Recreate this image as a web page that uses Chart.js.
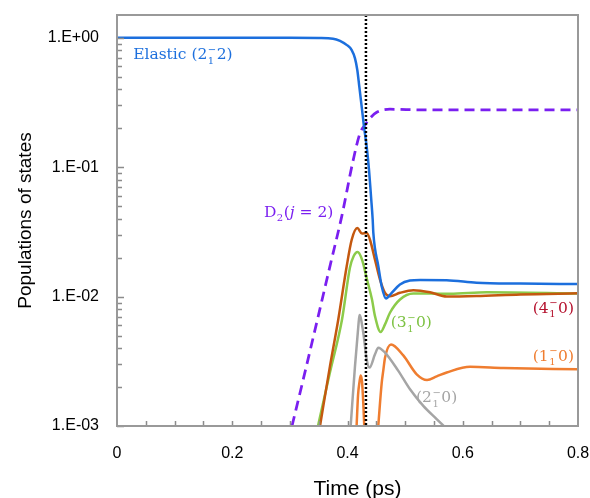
<!DOCTYPE html>
<html>
<head>
<meta charset="utf-8">
<script src="https://cdn.jsdelivr.net/npm/chart.js@4.4.0/dist/chart.umd.min.js"></script>
<style>
  html, body { margin: 0; padding: 0; background: #fff; }
</style>
</head>
<body>
<canvas id="popChart" width="590" height="498"></canvas>
<script>
// time (ps) / population pairs
const elasticT = [0, 0.1, 0.2, 0.3, 0.35, 0.375, 0.387, 0.399, 0.4073, 0.413, 0.417, 0.4205, 0.4246, 0.4286, 0.4333, 0.4373, 0.4408, 0.4437, 0.4448, 0.4535, 0.4594, 0.4668, 0.4767, 0.491, 0.5083, 0.526, 0.572, 0.624, 0.70, 0.80];
const elasticP = [1.0, 1.0, 1.0, 0.999, 0.995, 0.985, 0.948, 0.878, 0.804, 0.694, 0.564, 0.419, 0.294, 0.206, 0.144, 0.0957, 0.0594, 0.0394, 0.0312, 0.0172, 0.0120, 0.00967, 0.0107, 0.0124, 0.0133, 0.01345, 0.0134, 0.0128, 0.0126, 0.0125];

const d2T = [0.3037, 0.3233, 0.3466, 0.3696, 0.39, 0.41, 0.4217, 0.4304, 0.439, 0.4507, 0.4737, 0.526, 0.6, 0.7, 0.8];
const d2P = [0.001, 0.0023, 0.0063, 0.0172, 0.0417, 0.114, 0.183, 0.212, 0.239, 0.266, 0.2805, 0.2775, 0.277, 0.277, 0.277];

const s4T = [0.3523, 0.3696, 0.384, 0.3986, 0.4073, 0.417, 0.4252, 0.4333, 0.439, 0.4477, 0.4564, 0.4651, 0.4737, 0.4911, 0.5142, 0.5432, 0.5722, 0.624, 0.70, 0.80];
const s4P = [0.001, 0.0029, 0.00666, 0.01715, 0.0275, 0.0339, 0.0307, 0.031, 0.0275, 0.0193, 0.01355, 0.0107, 0.01007, 0.0107, 0.0112, 0.0108, 0.0100, 0.0101, 0.0104, 0.0106];

const s3T = [0.3488, 0.3696, 0.3905, 0.4043, 0.4106, 0.4175, 0.4252, 0.4338, 0.4425, 0.4477, 0.4575, 0.4651, 0.4737, 0.4911, 0.5142, 0.5432, 0.578, 0.6416, 0.80];
const s3P = [0.001, 0.0026, 0.00666, 0.0168, 0.0205, 0.0221, 0.0193, 0.01355, 0.0095, 0.00706, 0.00533, 0.0061, 0.0075, 0.0095, 0.01056, 0.01056, 0.0105, 0.0108, 0.01056];

const s2T = [0.4055, 0.413, 0.4188, 0.4208, 0.4274, 0.4333, 0.4382, 0.4477, 0.4535, 0.4651, 0.4876, 0.5085, 0.5315, 0.5547, 0.569];
const s2P = [0.001, 0.0029, 0.00591, 0.0072, 0.00526, 0.00327, 0.00283, 0.00358, 0.00403, 0.00369, 0.00269, 0.00192, 0.00143, 0.00113, 0.00098];

// null = curve drops below the axis between the spike and the main hump
const s1T = [0.4158, 0.4183, 0.4209, 0.4229, 0.4252, 0.4274, 0.4291, 0.44, 0.4534, 0.4594, 0.4622, 0.4651, 0.4755, 0.4968, 0.5201, 0.538, 0.5548, 0.5722, 0.6126, 0.6704, 0.80];
const s1P = [0.001, 0.00173, 0.0022, 0.00246, 0.0022, 0.0015, 0.001, null, 0.001, 0.00216, 0.0027, 0.00337, 0.00427, 0.00351, 0.00251, 0.00227, 0.00242, 0.00259, 0.00287, 0.00281, 0.00274];

const markerT = 0.432;
const yTickValues = [0.001, 0.01, 0.1, 1];
const yTickLabels = ['1.E-03', '1.E-02', '1.E-01', '1.E+00'];

const curveLabels = [
    { parts: [{ t: 'Elastic (2' }, { st: ['\u2212', '1'] }, { t: '2)' }], x: 0.028, y: 0.685, align: 'left', color: '#1C6FDD' },
    { parts: [{ t: 'D' }, { sub: '2' }, { t: '(' }, { t: 'j', it: true }, { t: ' = 2)' }], x: 0.255, y: 0.0415, align: 'left', color: '#7A1FF0' },
    { parts: [{ t: '(3' }, { st: ['\u2212', '1'] }, { t: '0)' }], x: 0.475, y: 0.0058, align: 'left', color: '#7DC243' },
    { parts: [{ t: '(4' }, { st: ['\u2212', '1'] }, { t: '0)' }], x: 0.793, y: 0.0075, align: 'right', color: '#B5122E' },
    { parts: [{ t: '(1' }, { st: ['\u2212', '1'] }, { t: '0)' }], x: 0.793, y: 0.0032, align: 'right', color: '#EF7D30' },
    { parts: [{ t: '(2' }, { st: ['\u2212', '1'] }, { t: '0)' }], x: 0.519, y: 0.00153, align: 'left', color: '#A5A5A5' }
];

function toPoints(t, p) {
    return t.map((x, i) => ({ x: x, y: p[i] }));
}

function line(label, t, p, color, order, extra) {
    return Object.assign({
        label: label,
        data: toPoints(t, p),
        borderColor: color,
        borderWidth: 2.5,
        pointRadius: 0,
        fill: false,
        spanGaps: false,
        cubicInterpolationMode: 'monotone',
        order: order
    }, extra || {});
}

// serif label with sub / stacked sub+sup pieces
function drawRich(ctx, parts, x, y, size, align, color) {
    const base = size + 'px "DejaVu Serif"';
    const small = Math.round(size * 0.66) + 'px "DejaVu Serif"';
    const widths = parts.map(p => {
        if (p.t) { ctx.font = (p.it ? 'italic ' : '') + base; return ctx.measureText(p.t).width; }
        ctx.font = small;
        if (p.sub) return ctx.measureText(p.sub).width + 1;
        return Math.max(ctx.measureText(p.st[0]).width, ctx.measureText(p.st[1]).width) + 1;
    });
    const total = widths.reduce((a, b) => a + b, 0);
    let cx = align === 'right' ? x - total : x;
    ctx.fillStyle = color;
    ctx.textAlign = 'left';
    ctx.textBaseline = 'alphabetic';
    parts.forEach((p, i) => {
        if (p.t) {
            ctx.font = (p.it ? 'italic ' : '') + base;
            ctx.fillText(p.t, cx, y);
        } else if (p.sub) {
            ctx.font = small;
            ctx.fillText(p.sub, cx + 0.5, y + size * 0.28);
        } else {
            ctx.font = small;
            ctx.fillText(p.st[0], cx + 0.5, y - size * 0.42);
            ctx.fillText(p.st[1], cx + 0.5, y + size * 0.3);
        }
        cx += widths[i];
    });
}

const extras = {
    id: 'extras',
    afterDatasetsDraw(chart) {
        const { ctx, chartArea: a, scales: { x, y } } = chart;
        ctx.save();
        ctx.strokeStyle = '#8c8c8c';
        ctx.lineWidth = 1.5;
        ctx.beginPath();
        for (let i = 1; i < 16; i++) {
            const px = Math.round(x.getPixelForValue(i * 0.05)) + 0.5;
            ctx.moveTo(px, a.bottom);
            ctx.lineTo(px, a.bottom - 5);
        }
        for (let d = -3; d <= 0; d++) {
            for (let k = 1; k <= 9; k++) {
                const v = k * Math.pow(10, d);
                if (v > y.max) break;
                const py = Math.round(y.getPixelForValue(v)) + 0.5;
                ctx.moveTo(a.left, py);
                ctx.lineTo(a.left + (k === 1 ? 7 : 5), py);
            }
        }
        ctx.stroke();
        ctx.lineWidth = 2;
        ctx.strokeStyle = '#999999';
        ctx.strokeRect(a.left, a.top, a.right - a.left, a.bottom - a.top);

        curveLabels.forEach(l => {
            drawRich(ctx, l.parts, x.getPixelForValue(l.x), y.getPixelForValue(l.y), 15.5, l.align, l.color);
        });

        ctx.fillStyle = '#000';
        ctx.font = '21px "Liberation Sans", Arial, sans-serif';
        ctx.textAlign = 'center';
        ctx.textBaseline = 'alphabetic';
        ctx.fillText('Time (ps)', (a.left + a.right) / 2 + 10, 495);
        ctx.restore();
    }
};

new Chart(document.getElementById('popChart'), {
    type: 'line',
    data: {
        datasets: [
            line('marker', [markerT, markerT], [0.0005, 2], '#000000', -1, { borderDash: [2, 2], borderWidth: 2.5, cubicInterpolationMode: 'default', tension: 0 }),
            line('Elastic (2_1^-2)', elasticT, elasticP, '#1C6FDD', 0),
            line('(4_1^-0)', s4T, s4P, '#C4580F', 1),
            line('(3_1^-0)', s3T, s3P, '#8CCB4A', 2),
            line('(2_1^-0)', s2T, s2P, '#A5A5A5', 3),
            line('(1_1^-0)', s1T, s1P, '#EF7D30', 4),
            line('D2(j = 2)', d2T, d2P, '#7A1FF0', 5, { borderDash: [10, 6], borderWidth: 2.75 })
        ]
    },
    options: {
        responsive: false,
        animation: false,
        devicePixelRatio: 1,
        layout: { padding: { top: 15, right: 12, left: 0, bottom: 0 } },
        plugins: {
            legend: { display: false },
            tooltip: { enabled: false }
        },
        scales: {
            x: {
                type: 'linear',
                min: 0,
                max: 0.8,
                grid: { display: false, drawTicks: false },
                border: { display: false },
                ticks: {
                    stepSize: 0.2,
                    padding: 18,
                    color: '#000',
                    font: { family: '"Liberation Sans", Arial, sans-serif', size: 16 },
                    maxRotation: 0
                },
                afterFit: function (scale) {
                    scale.height = 72;
                    scale.paddingLeft = 0;
                    scale.paddingRight = 0;
                }
            },
            y: {
                type: 'logarithmic',
                min: 0.001,
                max: 1.5,
                grid: { display: false, drawTicks: false },
                border: { display: false },
                afterBuildTicks: function (scale) {
                    scale.ticks = yTickValues.map(v => ({ value: v }));
                },
                ticks: {
                    padding: 18,
                    color: '#000',
                    font: { family: '"Liberation Sans", Arial, sans-serif', size: 16 },
                    callback: function (value) {
                        const i = yTickValues.indexOf(value);
                        return i >= 0 ? yTickLabels[i] : '';
                    }
                },
                title: {
                    display: true,
                    text: 'Populations of states',
                    color: '#000',
                    font: { family: '"Liberation Sans", Arial, sans-serif', size: 19 },
                    padding: { top: 14, bottom: 0 }
                },
                afterFit: function (scale) {
                    scale.width = 117;
                    scale.paddingTop = 0;
                    scale.paddingBottom = 0;
                }
            }
        }
    },
    plugins: [extras]
});
</script>
</body>
</html>
